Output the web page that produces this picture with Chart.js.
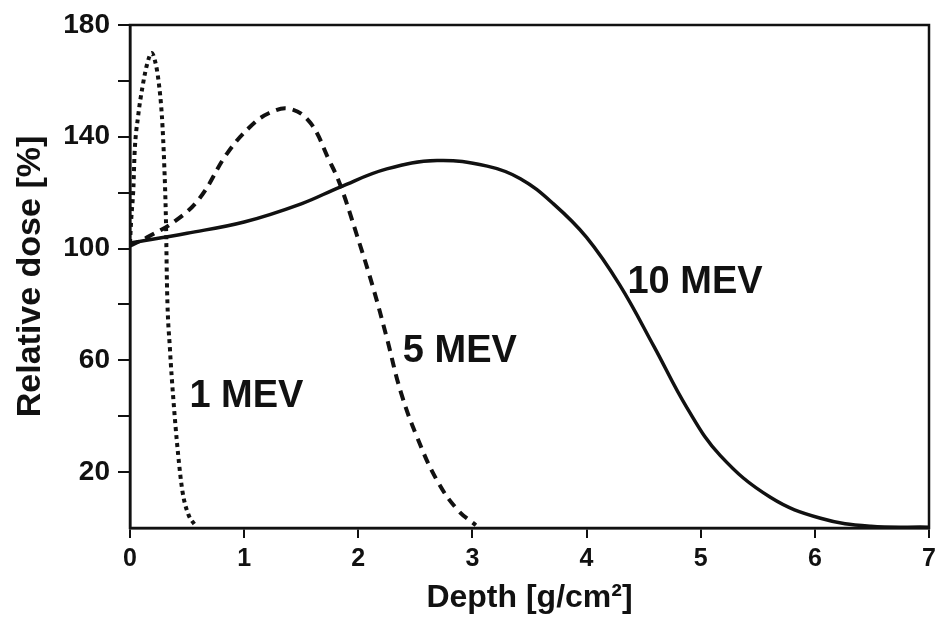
<!DOCTYPE html>
<html>
<head>
<meta charset="utf-8">
<script src="https://cdn.jsdelivr.net/npm/chart.js@4.4.1/dist/chart.umd.min.js"></script>
<style>
  html, body { margin: 0; padding: 0; background: #fff; }
  #wrap { width: 935px; height: 622px; }
</style>
</head>
<body>
<div id="wrap"><canvas id="doseChart"></canvas></div>
<script>
// depth in g/cm2, dose in %
const depth1MeV = [0, 0.01, 0.03, 0.04, 0.07, 0.11, 0.15, 0.19, 0.22, 0.25, 0.28, 0.30, 0.315, 0.325, 0.35, 0.38, 0.42, 0.46, 0.51, 0.57];
const dose1MeV  = [102, 110, 122, 134, 147, 158, 166, 170, 167, 160, 147, 130, 110, 85, 64, 46, 27, 13, 5, 1];

const depth5MeV = [0, 0.15, 0.4, 0.61, 0.85, 1.05, 1.22, 1.4, 1.58, 1.74, 1.84, 1.99, 2.13, 2.25, 2.37, 2.51, 2.69, 2.87, 3.03];
const dose5MeV  = [101, 104, 110, 118, 134, 143.5, 148.5, 150, 145, 132, 123, 104.5, 86, 68, 49, 33, 17, 6.5, 1];

const depth10MeV = [0, 0.5, 1, 1.5, 1.84, 2.25, 2.69, 3.13, 3.42, 3.71, 4.0, 4.29, 4.59, 4.88, 5.17, 5.61, 6.05, 6.49, 7];
const dose10MeV  = [102, 105.5, 109.5, 116, 122, 128.5, 131.5, 129.5, 125, 116, 104, 87, 65, 43, 26, 11, 3.5, 0.6, 0.3];

const labeledTicks = [20, 60, 100, 140, 180];

const curveLabels = [
  { text: '1 MEV', x: 1.02, y: 47 },
  { text: '5 MEV', x: 2.89, y: 63 },
  { text: '10 MEV', x: 4.95, y: 88 }
];

const FONT = '"Liberation Sans", Arial, Helvetica, sans-serif';
const INK = '#111';

function toPoints(xs, ys) {
  return xs.map((x, i) => ({ x: x, y: ys[i] }));
}

const labelPlugin = {
  id: 'curveLabels',
  afterDatasetsDraw(chart) {
    const { ctx, scales: { x, y } } = chart;
    ctx.save();
    ctx.font = 'bold 38px ' + FONT;
    ctx.fillStyle = INK;
    ctx.textAlign = 'center';
    ctx.textBaseline = 'middle';
    curveLabels.forEach(l => {
      ctx.fillText(l.text, x.getPixelForValue(l.x), y.getPixelForValue(l.y));
    });
    ctx.restore();
  }
};

// closes the box on the top and right side
const framePlugin = {
  id: 'frame',
  afterDraw(chart) {
    const { ctx, chartArea: a } = chart;
    ctx.save();
    ctx.strokeStyle = INK;
    ctx.lineWidth = 2.5;
    ctx.strokeRect(a.left, a.top, a.right - a.left, a.bottom - a.top);
    ctx.restore();
  }
};

const ctx = document.getElementById('doseChart');

const doseChart = new Chart(ctx, {
  type: 'line',
  data: {
    datasets: [
      {
        label: '1 MEV',
        data: toPoints(depth1MeV, dose1MeV),
        borderColor: INK,
        borderWidth: 4,
        borderDash: [4, 4],
        pointRadius: 0,
        cubicInterpolationMode: 'monotone'
      },
      {
        label: '5 MEV',
        data: toPoints(depth5MeV, dose5MeV),
        borderColor: INK,
        borderWidth: 4,
        borderDash: [10, 7],
        pointRadius: 0,
        tension: 0.4
      },
      {
        label: '10 MEV',
        data: toPoints(depth10MeV, dose10MeV),
        borderColor: INK,
        borderWidth: 3.5,
        pointRadius: 0,
        tension: 0.4
      }
    ]
  },
  options: {
    responsive: true,
    maintainAspectRatio: false,
    animation: false,
    layout: { padding: { top: 25, right: 6, left: 0, bottom: 0 } },
    plugins: {
      legend: { display: false },
      tooltip: { enabled: false }
    },
    scales: {
      x: {
        type: 'linear',
        min: 0,
        max: 7,
        border: { display: true, color: INK, width: 2.5 },
        grid: { drawOnChartArea: false, drawTicks: true, tickLength: 10, color: INK, lineWidth: 2 },
        ticks: {
          stepSize: 1,
          padding: 6,
          color: INK,
          font: { family: FONT, size: 25, weight: 'bold' }
        },
        title: {
          display: true,
          text: 'Depth [g/cm²]',
          color: INK,
          font: { family: FONT, size: 32, weight: 'bold' },
          padding: { top: 0, bottom: 5 }
        },
        afterFit(scale) {
          scale.height = 94;
          scale.paddingRight = 0;
        }
      },
      y: {
        min: 0,
        max: 180,
        border: { display: true, color: INK, width: 2.5 },
        grid: { drawOnChartArea: false, drawTicks: true, tickLength: 12, color: INK, lineWidth: 2 },
        ticks: {
          stepSize: 20,
          padding: 8,
          color: INK,
          font: { family: FONT, size: 28, weight: 'bold' },
          callback(value) {
            if (value === 0) return null;
            return labeledTicks.includes(value) ? String(value) : '';
          }
        },
        title: {
          display: true,
          text: 'Relative dose [%]',
          color: INK,
          font: { family: FONT, size: 34, weight: 'bold' },
          padding: { top: 10, bottom: 0 }
        },
        afterFit(scale) { scale.width = 130; }
      }
    }
  },
  plugins: [labelPlugin, framePlugin]
});
</script>
</body>
</html>
